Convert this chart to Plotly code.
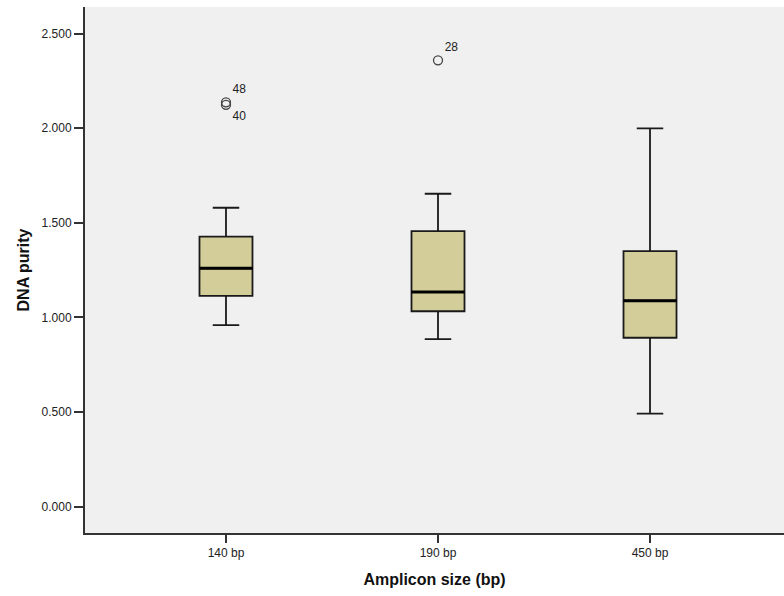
import plotly.graph_objects as go

categories = ["140 bp", "190 bp", "450 bp"]
q1 = [1.114, 1.033, 0.893]
median = [1.260, 1.135, 1.089]
q3 = [1.427, 1.456, 1.351]
lower_whisker = [0.960, 0.886, 0.492]
upper_whisker = [1.580, 1.654, 2.000]

outlier_group = [0, 0, 1]
outlier_values = [2.137, 2.124, 2.359]
outlier_labels = ["48", "40", "28"]
outlier_label_pos = ["top right", "bottom right", "top right"]

y_ticks = [0, 0.5, 1.0, 1.5, 2.0, 2.5]

pos = list(range(len(categories)))
box_w = 0.25
fill = "rgb(211,206,153)"

fig = go.Figure()
fig.add_trace(go.Box(
    x=pos, q1=q1, median=median, q3=q3,
    lowerfence=lower_whisker, upperfence=upper_whisker,
    width=box_w, whiskerwidth=0.5,
    fillcolor=fill, line=dict(color="#1a1a1a", width=1.8),
    boxpoints=False, showlegend=False, hoverinfo="skip",
))
fig.add_trace(go.Scatter(
    x=[pos[g] for g in outlier_group], y=outlier_values,
    mode="markers+text", text=outlier_labels, textposition=outlier_label_pos,
    textfont=dict(family="Liberation Sans, Arial", size=12, color="#222"),
    marker=dict(symbol="circle-open", size=9, color="#444", line=dict(width=1.3)),
    showlegend=False, hoverinfo="skip", cliponaxis=False,
))
for i, m in zip(pos, median):
    fig.add_shape(type="line", x0=i - box_w / 2, x1=i + box_w / 2, y0=m, y1=m,
                  line=dict(color="black", width=3))

fig.update_layout(
    width=784, height=596,
    margin=dict(l=85, r=0, t=7, b=63),
    paper_bgcolor="white", plot_bgcolor="#F0F0F0",
    font=dict(family="Liberation Sans, Arial", color="#222"),
    xaxis=dict(
        range=[-0.665, 2.632], tickvals=pos, ticktext=categories,
        showgrid=False, zeroline=False, showline=True, linecolor="#333", linewidth=2,
        ticks="outside", ticklen=8, tickwidth=1.5, tickcolor="#333",
        tickfont=dict(size=12, color="#222"),
        title=dict(text="<b>Amplicon size (bp)</b>", font=dict(size=16, color="#111"), standoff=14),
    ),
    yaxis=dict(
        range=[-0.139, 2.641], tickvals=y_ticks, tickformat=".3f",
        showgrid=False, zeroline=False, showline=True, linecolor="#333", linewidth=2,
        ticks="outside", ticklen=9, tickwidth=1.5, tickcolor="#333",
        tickfont=dict(size=12, color="#222"),
        title=dict(text="<b>DNA purity</b>", font=dict(size=16, color="#111"), standoff=8),
    ),
)
fig.write_html("out.html", config={"displayModeBar": False},
               post_script="document.body.style.margin='0';")
